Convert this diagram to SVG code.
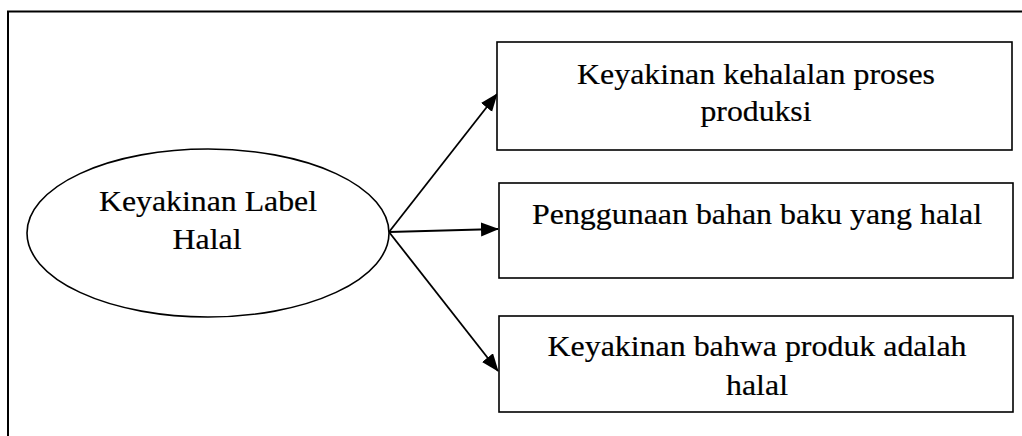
<svg xmlns="http://www.w3.org/2000/svg" width="1022" height="436" viewBox="0 0 1022 436">
<style>
.box{fill:#fff;stroke:#000;stroke-width:1.6}
.frame{fill:none;stroke:#000;stroke-width:2}
.t{font-size:30px;fill:#000;stroke:#000;stroke-width:0.2;text-anchor:middle}
.conn{stroke:#000;stroke-width:1.8;fill:none;marker-end:url(#ah)}
</style>
<defs>
<marker id="ah" markerUnits="userSpaceOnUse" markerWidth="19" markerHeight="15" refX="17" refY="7" orient="auto">
<path d="M0,0 L18,7 L0,14 z" fill="#000"/>
</marker>
</defs>
<rect width="1022" height="436" fill="#fff"/>
<path class="frame" d="M8,440 L8,11.5 L1030,11.5"/>
<g id="connectors">
<line class="conn" x1="389" y1="232" x2="497" y2="94"/>
<line class="conn" x1="389" y1="232" x2="498" y2="229"/>
<line class="conn" x1="389" y1="232" x2="498" y2="371"/>
</g>
<g id="node-keyakinan-label-halal">
<ellipse class="box" cx="208" cy="233" rx="181" ry="84"/>
<text class="t" font-family="Liberation Serif" x="208" y="211" textLength="218" lengthAdjust="spacingAndGlyphs">Keyakinan Label</text>
<text class="t" font-family="Liberation Serif" x="207" y="249" textLength="69" lengthAdjust="spacingAndGlyphs">Halal</text>
</g>
<g id="node-proses-produksi">
<rect class="box" x="497" y="42" width="515" height="108"/>
<text class="t" font-family="Liberation Serif" x="756" y="84" textLength="358" lengthAdjust="spacingAndGlyphs">Keyakinan kehalalan proses</text>
<text class="t" font-family="Liberation Serif" x="756" y="121" textLength="111" lengthAdjust="spacingAndGlyphs">produksi</text>
</g>
<g id="node-bahan-baku">
<rect class="box" x="499" y="183" width="514" height="95"/>
<text class="t" font-family="Liberation Serif" x="757" y="224" textLength="450" lengthAdjust="spacingAndGlyphs">Penggunaan bahan baku yang halal</text>
</g>
<g id="node-produk-halal">
<rect class="box" x="499" y="316" width="514" height="96"/>
<text class="t" font-family="Liberation Serif" x="757" y="356" textLength="419" lengthAdjust="spacingAndGlyphs">Keyakinan bahwa produk adalah</text>
<text class="t" font-family="Liberation Serif" x="757" y="395" textLength="62" lengthAdjust="spacingAndGlyphs">halal</text>
</g>
</svg>
